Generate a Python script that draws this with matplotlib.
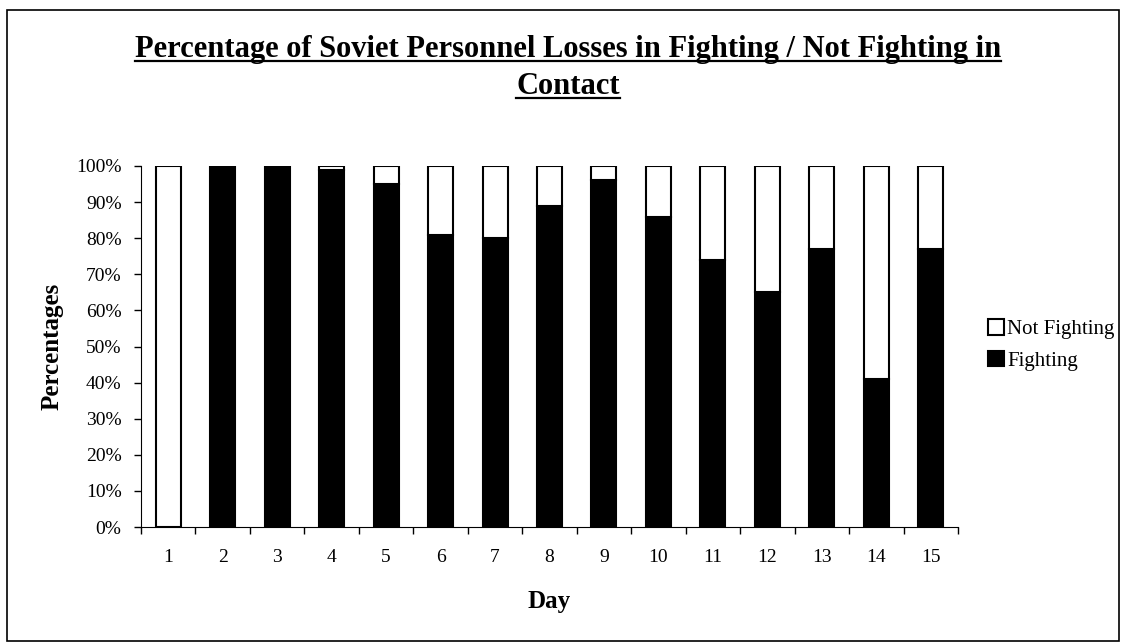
import numpy as np
import matplotlib.pyplot as plt
from matplotlib.lines import Line2D
from matplotlib.patches import Rectangle

plt.rcParams['font.family'] = ['Liberation Serif', 'DejaVu Serif']

days = [str(d) for d in range(1, 16)]
fighting = [0, 100, 100, 99, 95, 81, 80, 89, 96, 86, 74, 65, 77, 41, 77]
not_fighting = [100 - f for f in fighting]

W, H = 1121, 643
fig = plt.figure(figsize=(W / 100, H / 100), dpi=100)
ax = fig.add_axes([141 / W, 1 - 527 / H, (958 - 141) / W, (527 - 166) / H])

x = np.arange(len(days))
ax.bar(x, fighting, width=0.46, color='black', edgecolor='black', linewidth=1.5, label='Fighting')
ax.bar(x, not_fighting, width=0.46, bottom=fighting, color='white', edgecolor='black',
       linewidth=1.5, label='Not Fighting')

ax.set_xlim(-0.5, len(days) - 0.5)
ax.set_ylim(0, 100)
ax.set_yticks(range(0, 101, 10))
ax.set_yticklabels([f'{v}%' for v in range(0, 101, 10)], fontsize=14)
ax.set_xticks(x)
ax.set_xticklabels(days, fontsize=14)
ax.set_xticks(np.arange(-0.5, len(days), 1), minor=True)
ax.tick_params(axis='x', which='major', length=0, pad=16)
ax.tick_params(axis='x', which='minor', length=5, direction='out', width=1)
ax.tick_params(axis='y', length=5, direction='out', width=1, pad=9)
for s in ['top', 'right']:
    ax.spines[s].set_visible(False)

ax.set_xlabel('Day', fontsize=18, fontweight='bold')
ax.set_ylabel('Percentages', fontsize=18, fontweight='bold')
ax.xaxis.set_label_coords(0.5, -0.175)
ax.yaxis.set_label_coords(-0.095, 0.5)

handles, labels = ax.get_legend_handles_labels()
fig.legend(handles[::-1], labels[::-1], loc='center left', bbox_to_anchor=(980 / W, 1 - 345 / H),
           frameon=False, fontsize=15, handlelength=0.75, handleheight=0.75,
           handletextpad=0.15, labelspacing=0.55, borderaxespad=0)

# two-line underlined title
title_lines = ['Percentage of Soviet Personnel Losses in Fighting / Not Fighting in', 'Contact']
baselines = [57, 94]
fig.canvas.draw()
r = fig.canvas.get_renderer()
inv = fig.transFigure.inverted()
for line, base in zip(title_lines, baselines):
    t = fig.text(568 / W, 1 - base / H, line, ha='center', va='baseline',
                 fontsize=22, fontweight='bold')
    bb = t.get_window_extent(r)
    x0, _ = inv.transform((bb.x0, 0))
    x1, _ = inv.transform((bb.x1, 0))
    yu = 1 - (base + 4) / H
    fig.add_artist(Line2D([x0, x1], [yu, yu], color='black', lw=1.6, transform=fig.transFigure))

fig.add_artist(Rectangle((7 / W, 2 / H), (1119 - 7) / W, (641 - 10) / H, fill=False,
                         edgecolor='black', lw=1.2, transform=fig.transFigure))

fig.savefig('out.png', dpi=100)
